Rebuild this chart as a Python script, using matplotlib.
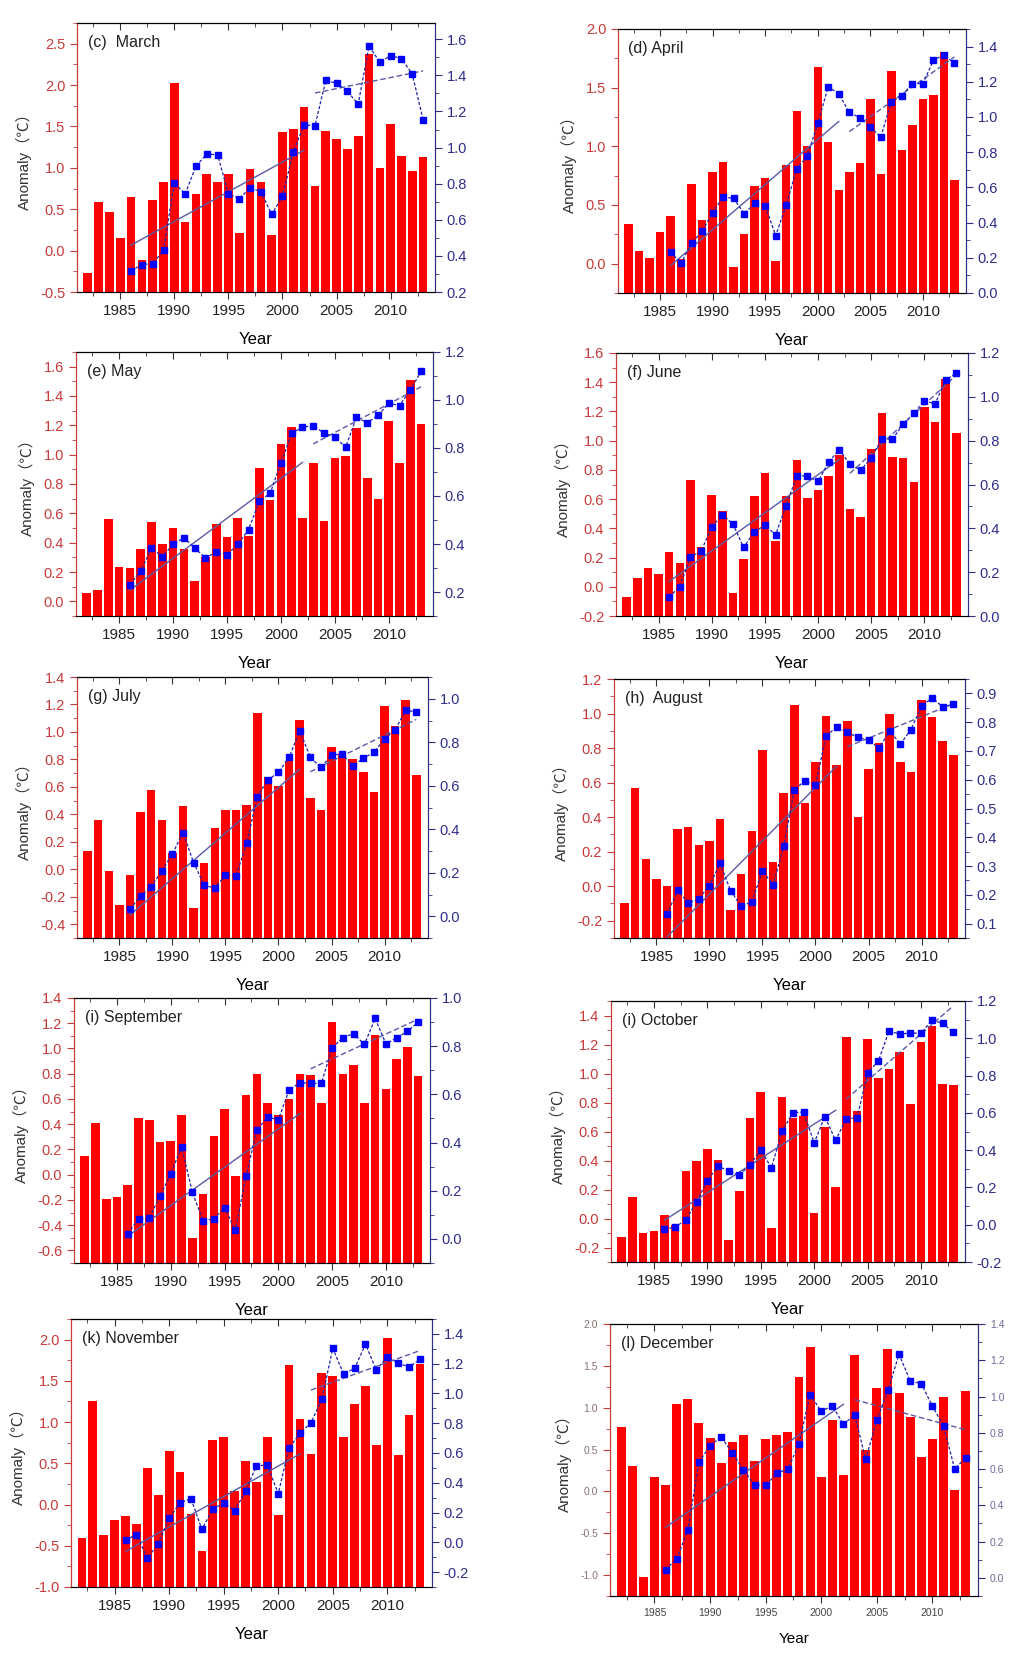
import numpy as np
import matplotlib.pyplot as plt
from matplotlib.ticker import MultipleLocator, AutoMinorLocator, FormatStrFormatter

plt.rcParams['font.family'] = ['Liberation Sans', 'Noto Sans CJK SC']

# ---- data ----
years = list(range(1982, 2014))
line_years = list(range(1986, 2014))

mar_bar = [-0.27, 0.59, 0.47, 0.15, 0.65, -0.11, 0.61, 0.83, 2.02, 0.34, 0.68, 0.93, 0.83, 0.92, 0.21, 0.99,
           0.83, 0.19, 1.43, 1.47, 1.74, 0.78, 1.45, 1.35, 1.23, 1.39, 2.38, 1.00, 1.53, 1.14, 0.96, 1.13]
mar_line = [0.317, 0.352, 0.357, 0.431, 0.806, 0.743, 0.898, 0.963, 0.961, 0.743, 0.717, 0.776, 0.756, 0.630,
            0.730, 0.978, 1.126, 1.120, 1.372, 1.356, 1.311, 1.241, 1.561, 1.474, 1.509, 1.493, 1.407, 1.154]

apr_bar = [0.34, 0.11, 0.05, 0.27, 0.41, 0.04, 0.68, 0.37, 0.78, 0.87, -0.03, 0.25, 0.66, 0.73, 0.02, 0.84,
           1.30, 1.00, 1.68, 1.04, 0.63, 0.78, 0.86, 1.40, 0.76, 1.64, 0.97, 1.18, 1.40, 1.44, 1.80, 0.71]
apr_line = [0.234, 0.168, 0.284, 0.352, 0.455, 0.547, 0.537, 0.451, 0.509, 0.497, 0.326, 0.499, 0.707, 0.777,
            0.964, 1.173, 1.130, 1.027, 0.996, 0.943, 0.886, 1.088, 1.122, 1.190, 1.189, 1.322, 1.354, 1.305]

may_bar = [0.06, 0.075, 0.56, 0.235, 0.23, 0.355, 0.54, 0.39, 0.50, 0.355, 0.14, 0.30, 0.525, 0.44, 0.57, 0.445,
           0.91, 0.69, 1.07, 1.19, 0.57, 0.94, 0.55, 0.98, 0.99, 1.18, 0.84, 0.70, 1.23, 0.94, 1.51, 1.21]
may_line = [0.231, 0.287, 0.384, 0.347, 0.398, 0.426, 0.384, 0.341, 0.368, 0.356, 0.398, 0.460, 0.578, 0.611,
            0.738, 0.861, 0.887, 0.893, 0.862, 0.845, 0.803, 0.928, 0.905, 0.936, 0.986, 0.977, 1.042, 1.119]

jun_bar = [-0.07, 0.06, 0.13, 0.085, 0.24, 0.16, 0.73, 0.27, 0.63, 0.52, -0.04, 0.19, 0.62, 0.78, 0.31, 0.62,
           0.87, 0.61, 0.66, 0.76, 0.90, 0.53, 0.48, 0.94, 1.19, 0.89, 0.88, 0.72, 1.23, 1.13, 1.42, 1.05]
jun_line = [0.087, 0.134, 0.270, 0.296, 0.405, 0.463, 0.419, 0.313, 0.383, 0.415, 0.370, 0.503, 0.639, 0.639,
            0.614, 0.703, 0.759, 0.692, 0.665, 0.721, 0.808, 0.806, 0.877, 0.924, 0.982, 0.968, 1.076, 1.108]

jul_bar = [0.13, 0.36, -0.01, -0.26, -0.04, 0.42, 0.58, 0.36, 0.12, 0.46, -0.28, 0.045, 0.30, 0.43, 0.435, 0.465,
           1.135, 0.67, 0.61, 0.79, 1.09, 0.52, 0.43, 0.89, 0.83, 0.80, 0.71, 0.565, 1.19, 1.04, 1.23, 0.69]
jul_line = [0.034, 0.092, 0.136, 0.209, 0.287, 0.385, 0.246, 0.142, 0.130, 0.189, 0.186, 0.336, 0.550, 0.627,
            0.661, 0.730, 0.853, 0.731, 0.684, 0.740, 0.747, 0.689, 0.727, 0.753, 0.815, 0.858, 0.947, 0.939]

aug_bar = [-0.10, 0.57, 0.16, 0.04, 0.00, 0.33, 0.34, 0.24, 0.26, 0.39, -0.14, 0.07, 0.32, 0.79, 0.14, 0.54,
           1.05, 0.48, 0.72, 0.985, 0.70, 0.955, 0.40, 0.68, 0.83, 1.00, 0.72, 0.66, 1.08, 0.98, 0.84, 0.76]
aug_line = [0.132, 0.216, 0.172, 0.186, 0.232, 0.309, 0.214, 0.160, 0.176, 0.284, 0.234, 0.368, 0.564, 0.597,
            0.581, 0.752, 0.783, 0.765, 0.747, 0.738, 0.709, 0.771, 0.723, 0.774, 0.855, 0.885, 0.853, 0.862]

sep_bar = [0.15, 0.41, -0.19, -0.18, -0.085, 0.45, 0.43, 0.26, 0.27, 0.475, -0.50, -0.155, 0.31, 0.52, -0.01,
           0.635, 0.80, 0.57, 0.47, 0.60, 0.795, 0.79, 0.57, 1.21, 0.80, 0.87, 0.57, 1.11, 0.68, 0.92, 1.01, 0.78]
sep_line = [0.021, 0.083, 0.087, 0.178, 0.270, 0.382, 0.194, 0.076, 0.083, 0.130, 0.035, 0.262, 0.452, 0.506,
            0.495, 0.618, 0.649, 0.646, 0.646, 0.793, 0.836, 0.852, 0.807, 0.915, 0.810, 0.834, 0.862, 0.900]

oct_bar = [-0.125, 0.15, -0.10, -0.085, 0.025, -0.045, 0.33, 0.40, 0.48, 0.405, -0.15, 0.19, 0.69, 0.87, -0.065,
           0.84, 0.69, 0.71, 0.04, 0.63, 0.22, 1.25, 0.74, 1.24, 0.97, 1.03, 1.15, 0.79, 1.22, 1.33, 0.93, 0.92]
oct_line = [-0.025, -0.012, 0.025, 0.124, 0.236, 0.313, 0.290, 0.265, 0.322, 0.400, 0.306, 0.501, 0.601, 0.604,
            0.439, 0.580, 0.452, 0.569, 0.572, 0.814, 0.878, 1.040, 1.022, 1.029, 1.026, 1.097, 1.081, 1.033]

nov_bar = [-0.41, 1.25, -0.37, -0.19, -0.14, -0.235, 0.445, 0.12, 0.645, 0.395, -0.11, -0.56, 0.785, 0.825, 0.16,
           0.525, 0.275, 0.825, -0.125, 1.69, 1.035, 0.615, 1.59, 1.56, 0.825, 1.22, 1.44, 0.72, 2.02, 0.60, 1.09, 1.70]
nov_line = [0.016, 0.052, -0.106, -0.009, 0.162, 0.266, 0.293, 0.088, 0.223, 0.264, 0.212, 0.343, 0.514, 0.519,
            0.327, 0.634, 0.733, 0.803, 0.961, 1.303, 1.130, 1.168, 1.330, 1.157, 1.247, 1.204, 1.177, 1.229]

dec_bar = [0.765, 0.30, -1.02, 0.17, 0.075, 1.045, 1.105, 0.82, 0.635, 0.335, 0.595, 0.67, 0.365, 0.63, 0.67, 0.71,
           1.37, 1.72, 0.17, 0.85, 0.20, 1.63, 0.49, 1.235, 1.70, 1.17, 0.885, 0.415, 0.62, 1.13, 0.015, 1.205]
dec_line = [0.046, 0.104, 0.264, 0.637, 0.729, 0.778, 0.689, 0.597, 0.511, 0.511, 0.577, 0.599, 0.740, 1.011,
            0.918, 0.949, 0.846, 0.899, 0.654, 0.870, 1.035, 1.233, 1.086, 1.071, 0.947, 0.837, 0.601, 0.663]

titles = ['(c)  March', '(d) April', '(e) May', '(f) June', '(g) July', '(h)  August',
          '(i) September', '(i) October', '(k) November', '(l) December']
bars = [mar_bar, apr_bar, may_bar, jun_bar, jul_bar, aug_bar, sep_bar, oct_bar, nov_bar, dec_bar]
lines = [mar_line, apr_line, may_line, jun_line, jul_line, aug_line, sep_line, oct_line, nov_line, dec_line]
break_year = 2002   # trend fitted over 1986-2002 and 2003-2013

# ---- layout / axis settings (pixels: left, top, right, bottom) ----
W, H = 1024, 1655
boxes = [(77, 23, 435, 292), (618, 29, 966, 293),
         (76, 352, 433, 616), (616, 353, 968, 616),
         (77, 677, 428, 938), (614, 679, 965, 938),
         (74, 998, 430, 1263), (611, 1001, 965, 1262),
         (71, 1319, 432, 1587), (610, 1324, 978, 1596)]
left_lim = [(-0.5, 2.75), (-0.25, 2.0), (-0.1, 1.7), (-0.2, 1.6), (-0.5, 1.4),
            (-0.3, 1.2), (-0.7, 1.4), (-0.3, 1.5), (-1.0, 2.25), (-1.25, 2.0)]
left_step = [0.5, 0.5, 0.2, 0.2, 0.2, 0.2, 0.2, 0.2, 0.5, 0.5]
right_lim = [(0.2, 1.69), (0.0, 1.5), (0.1, 1.2), (0.0, 1.2), (-0.1, 1.1),
             (0.05, 0.95), (-0.1, 1.0), (-0.2, 1.2), (-0.3, 1.5), (-0.1, 1.4)]
right_step = [0.2, 0.2, 0.2, 0.2, 0.2, 0.1, 0.2, 0.2, 0.2, 0.2]

RED = '#ff0000'
LRED = '#c83a3a'
NAVY = '#2e2e8a'
TREND = '#5a5aa6'

fig = plt.figure(figsize=(10.24, 16.55), dpi=100)

for i in range(10):
    l, t, r, b = boxes[i]
    ax = fig.add_axes([l / W, 1 - b / H, (r - l) / W, (b - t) / H])
    small = (i == 9)
    tick_fs = 7.5 if small else 10.5
    ymin = left_lim[i][0]

    # Origin-style bars: every bar rises from the bottom of the axis
    vals = np.array(bars[i])
    ax.bar(years, vals - ymin, bottom=ymin, width=0.8, color=RED, edgecolor='none', zorder=2)
    ax.set_xlim(1981, 2014.1)
    ax.set_ylim(*left_lim[i])
    ax.yaxis.set_major_locator(MultipleLocator(left_step[i]))
    ax.yaxis.set_minor_locator(AutoMinorLocator(2))
    ax.yaxis.set_major_formatter(FormatStrFormatter('%.1f'))
    ax.xaxis.set_major_locator(MultipleLocator(5))
    ax.xaxis.set_minor_locator(MultipleLocator(2.5))
    ax.tick_params(axis='y', which='both', direction='out', colors=LRED, labelsize=tick_fs,
                   labelcolor='#8a7070' if small else LRED)
    ax.tick_params(axis='y', which='major', length=5)
    ax.tick_params(axis='y', which='minor', length=3)
    ax.tick_params(axis='x', which='both', direction='out', color='#333333',
                   labelsize=7.5 if small else 11, labelcolor='#444444' if small else '#222222')
    ax.tick_params(axis='x', which='major', length=5)
    ax.tick_params(axis='x', which='minor', length=3)
    top = ax.secondary_xaxis('top')
    top.xaxis.set_major_locator(MultipleLocator(5))
    top.xaxis.set_minor_locator(MultipleLocator(2.5))
    top.tick_params(which='both', direction='in', labeltop=False, color='#333333')
    top.tick_params(which='major', length=5)
    top.tick_params(which='minor', length=3)
    top.spines['top'].set_color('#555555')
    ax.spines['left'].set_color(LRED)
    ax.spines['bottom'].set_color('#444444')
    ax.spines['top'].set_color('#555555')
    ax.spines['right'].set_color(NAVY)

    ax.set_xlabel('Year', fontsize=11 if small else 12, labelpad=10)
    ax.set_ylabel('Anomaly（℃）', fontsize=11, color='#333333', labelpad=6)
    ax.text(0.03, 0.955, titles[i], transform=ax.transAxes, fontsize=11.5, va='top', ha='left',
            color='#222222')

    ax2 = ax.twinx()
    ly = np.array(line_years)
    lv = np.array(lines[i])
    ax2.plot(ly, lv, color='#2222aa', lw=0.9, ls=(0, (2.5, 1.5)),
             marker='s', ms=4.5, mfc='#0000ff', mec='#0000ff', zorder=4)
    # linear trends over the two periods
    seg1 = ly <= break_year
    seg2 = ly > break_year
    k1, b1 = np.polyfit(ly[seg1], lv[seg1], 1)
    k2, b2 = np.polyfit(ly[seg2], lv[seg2], 1)
    x1 = ly[seg1][[0, -1]]
    x2 = ly[seg2][[0, -1]]
    ax2.plot(x1, k1 * x1 + b1, color=TREND, lw=1.0, zorder=3)
    ax2.plot(x2, k2 * x2 + b2, color=TREND, lw=1.0, ls=(0, (4, 2)), zorder=3)

    ax2.set_ylim(*right_lim[i])
    ax2.yaxis.set_major_locator(MultipleLocator(right_step[i]))
    ax2.yaxis.set_minor_locator(AutoMinorLocator(2))
    ax2.yaxis.set_major_formatter(FormatStrFormatter('%.1f'))
    ax2.tick_params(axis='y', which='both', direction='out', colors=NAVY, labelsize=tick_fs,
                    labelcolor='#6a6a9a' if small else NAVY)
    ax2.tick_params(axis='y', which='major', length=5)
    ax2.tick_params(axis='y', which='minor', length=3)
    ax2.spines['right'].set_color(NAVY)
    ax2.spines['left'].set_color(LRED)

fig.savefig('out.png', dpi=100)
